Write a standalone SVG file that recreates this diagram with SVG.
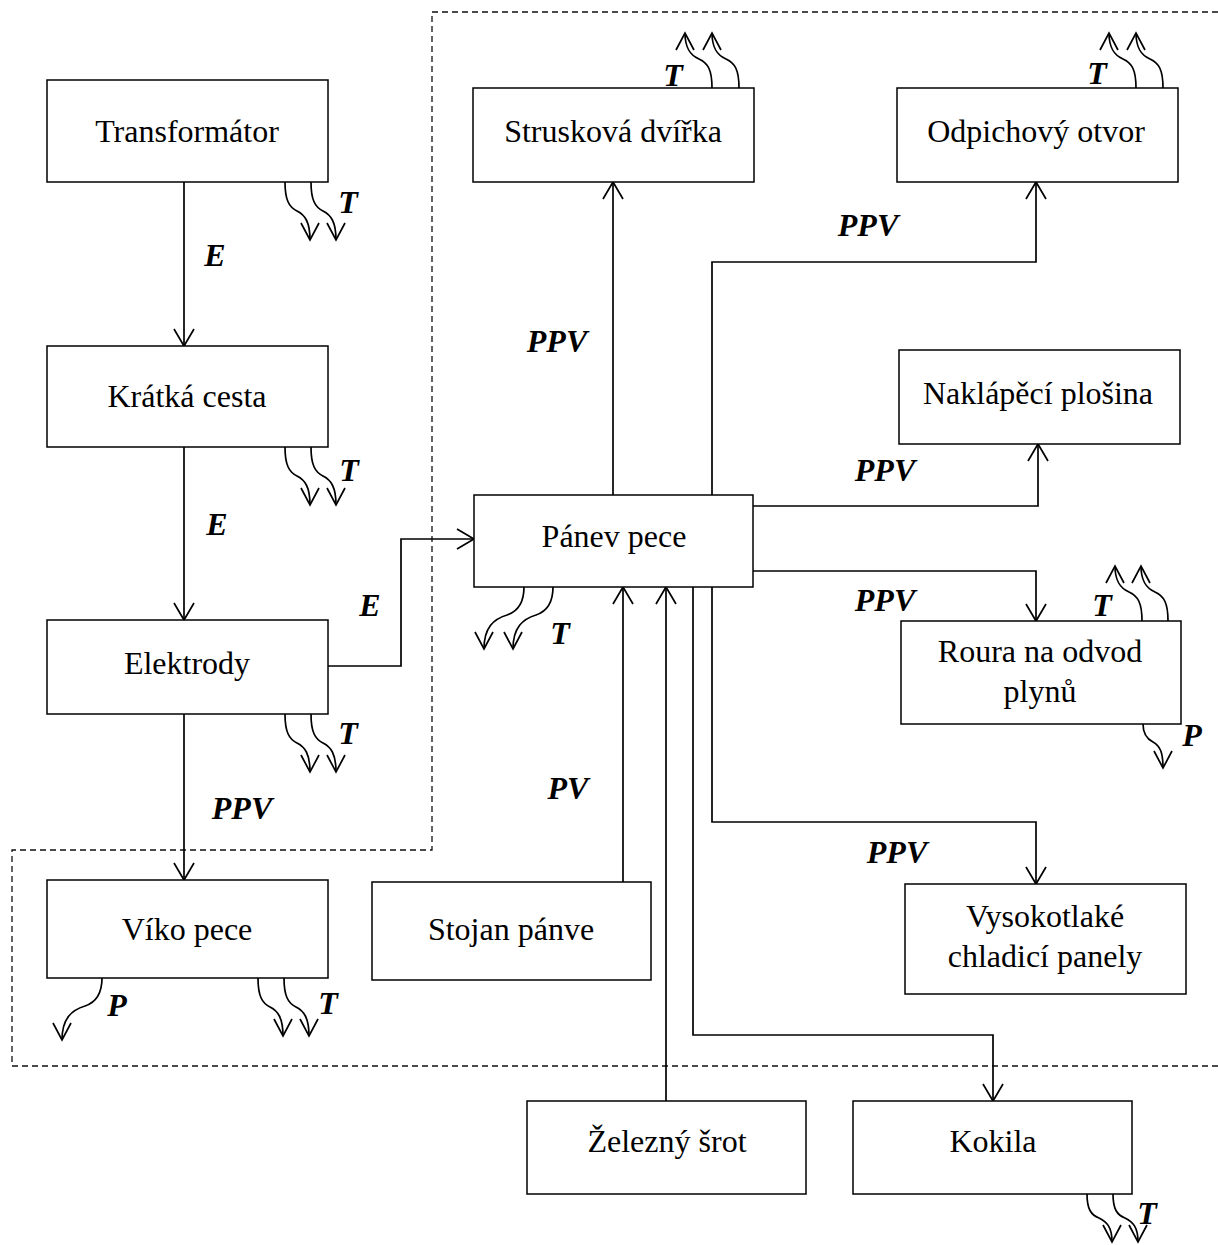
<svg xmlns="http://www.w3.org/2000/svg" width="1218" height="1245" viewBox="0 0 1218 1245">
<style>
.box{fill:#fff;stroke:#000;stroke-width:1.5}
.lbl{font-family:"Liberation Serif","Times New Roman",serif;font-size:32px;text-anchor:middle;fill:#000}
.em{font-family:"Liberation Serif","Times New Roman",serif;font-size:32px;font-weight:bold;font-style:italic;text-anchor:middle;fill:#000}
.c{fill:none;stroke:#000;stroke-width:1.7;marker-end:url(#a)}
.h{fill:none;stroke:#000;stroke-width:1.7;marker-end:url(#h)}
.dash{fill:none;stroke:#111;stroke-width:1.3;stroke-dasharray:6 4}
</style>
<defs>
<marker id="a" viewBox="0 0 20 22" refX="18" refY="11" markerWidth="20" markerHeight="22" markerUnits="userSpaceOnUse" orient="auto"><path d="M1,1 L18,11 L1,21" fill="none" stroke="#000" stroke-width="1.7"/></marker>
<marker id="h" viewBox="0 0 20 20" refX="18" refY="10" markerWidth="20" markerHeight="20" markerUnits="userSpaceOnUse" orient="auto"><path d="M1,1 L18,10 L1,19" fill="none" stroke="#000" stroke-width="1.7"/></marker>
<path id="dn" d="M0,0 C0,18 4,25 12,29 C20,33 25,40 25,58"/>
<path id="dnS" d="M0,0 C0,15 4,21 12,24 C20,28 25,33 25,48"/>
<path id="up" d="M0,0 C0,-18 -4,-25 -13,-29 C-22,-33 -27,-40 -27,-55"/>
<path id="dl" d="M0,0 C0,15 -5,24 -17,28 C-30,32 -40,40 -40,62"/>
<path id="dr" d="M0,0 C0,10 4,15 10,18 C17,22 20,28 20,44"/>
</defs>

<path class="dash" d="M1218,12 H432 V850 H12 V1066 H1218"/>

<g id="connectors">
<path class="c" d="M184,182 V346"/>
<path class="c" d="M184,447 V620"/>
<path class="c" d="M184,714 V880"/>
<path class="c" d="M328,666 H401 V539 H474"/>
<path class="c" d="M613,495 V182"/>
<path class="c" d="M712,495 V262 H1036 V182"/>
<path class="c" d="M753,506 H1038 V444"/>
<path class="c" d="M753,571 H1036 V621"/>
<path class="c" d="M712,587 V822 H1036 V884"/>
<path class="c" d="M693,587 V1035 H993 V1101"/>
<path class="c" d="M623,882 V587"/>
<path class="c" d="M666,1101 V587"/>
<text class="em" x="215" y="266">E</text>
<text class="em" x="217" y="535">E</text>
<text class="em" x="370" y="616">E</text>
<text class="em" x="242" y="819">PPV</text>
<text class="em" x="557" y="352">PPV</text>
<text class="em" x="868" y="236">PPV</text>
<text class="em" x="885" y="481">PPV</text>
<text class="em" x="885" y="611">PPV</text>
<text class="em" x="897" y="863">PPV</text>
<text class="em" x="568" y="799">PV</text>
</g>

<g id="transformator">
<rect class="box" x="47" y="80" width="281" height="102"/>
<text class="lbl" x="187" y="142">Transformátor</text>
<use href="#dn" class="h" x="285" y="182"/><use href="#dn" class="h" x="311" y="182"/>
<text class="em" x="348" y="213">T</text>
</g>
<g id="kratka">
<rect class="box" x="47" y="346" width="281" height="101"/>
<text class="lbl" x="187" y="407">Krátká cesta</text>
<use href="#dn" class="h" x="285" y="447"/><use href="#dn" class="h" x="311" y="447"/>
<text class="em" x="349" y="481">T</text>
</g>
<g id="elektrody">
<rect class="box" x="47" y="620" width="281" height="94"/>
<text class="lbl" x="187" y="674">Elektrody</text>
<use href="#dn" class="h" x="285" y="714"/><use href="#dn" class="h" x="311" y="714"/>
<text class="em" x="348" y="744">T</text>
</g>
<g id="viko">
<rect class="box" x="47" y="880" width="281" height="98"/>
<text class="lbl" x="187" y="940">Víko pece</text>
<use href="#dl" class="h" x="102" y="978"/>
<text class="em" x="117" y="1016">P</text>
<use href="#dn" class="h" x="258" y="978"/><use href="#dn" class="h" x="284" y="978"/>
<text class="em" x="328" y="1014">T</text>
</g>
<g id="struskova">
<rect class="box" x="473" y="88" width="281" height="94"/>
<text class="lbl" x="613" y="142">Strusková dvířka</text>
<use href="#up" class="h" x="712" y="88"/><use href="#up" class="h" x="739" y="88"/>
<text class="em" x="673" y="86">T</text>
</g>
<g id="odpichovy">
<rect class="box" x="897" y="88" width="281" height="94"/>
<text class="lbl" x="1036" y="142">Odpichový otvor</text>
<use href="#up" class="h" x="1136" y="88"/><use href="#up" class="h" x="1163" y="88"/>
<text class="em" x="1097" y="84">T</text>
</g>
<g id="naklapeci">
<rect class="box" x="899" y="350" width="281" height="94"/>
<text class="lbl" x="1038" y="404">Naklápěcí plošina</text>
</g>
<g id="panev">
<rect class="box" x="474" y="495" width="279" height="92"/>
<text class="lbl" x="614" y="547">Pánev pece</text>
<use href="#dl" class="h" x="524" y="587"/><use href="#dl" class="h" x="553" y="587"/>
<text class="em" x="560" y="644">T</text>
</g>
<g id="roura">
<rect class="box" x="901" y="621" width="280" height="103"/>
<text class="lbl" x="1040" y="662">Roura na odvod</text>
<text class="lbl" x="1040" y="702">plynů</text>
<use href="#up" class="h" x="1142" y="621"/><use href="#up" class="h" x="1168" y="621"/>
<text class="em" x="1102" y="616">T</text>
<use href="#dr" class="h" x="1143" y="724"/>
<text class="em" x="1192" y="746">P</text>
</g>
<g id="vysokotlake">
<rect class="box" x="905" y="884" width="281" height="110"/>
<text class="lbl" x="1045" y="927">Vysokotlaké</text>
<text class="lbl" x="1045" y="967">chladicí panely</text>
</g>
<g id="stojan">
<rect class="box" x="372" y="882" width="279" height="98"/>
<text class="lbl" x="511" y="940">Stojan pánve</text>
</g>
<g id="zelezny">
<rect class="box" x="527" y="1101" width="279" height="93"/>
<text class="lbl" x="667" y="1152">Železný šrot</text>
</g>
<g id="kokila">
<rect class="box" x="853" y="1101" width="279" height="93"/>
<text class="lbl" x="993" y="1152">Kokila</text>
<use href="#dnS" class="h" x="1087" y="1194"/><use href="#dnS" class="h" x="1113" y="1194"/>
<text class="em" x="1147" y="1224">T</text>
</g>
</svg>
